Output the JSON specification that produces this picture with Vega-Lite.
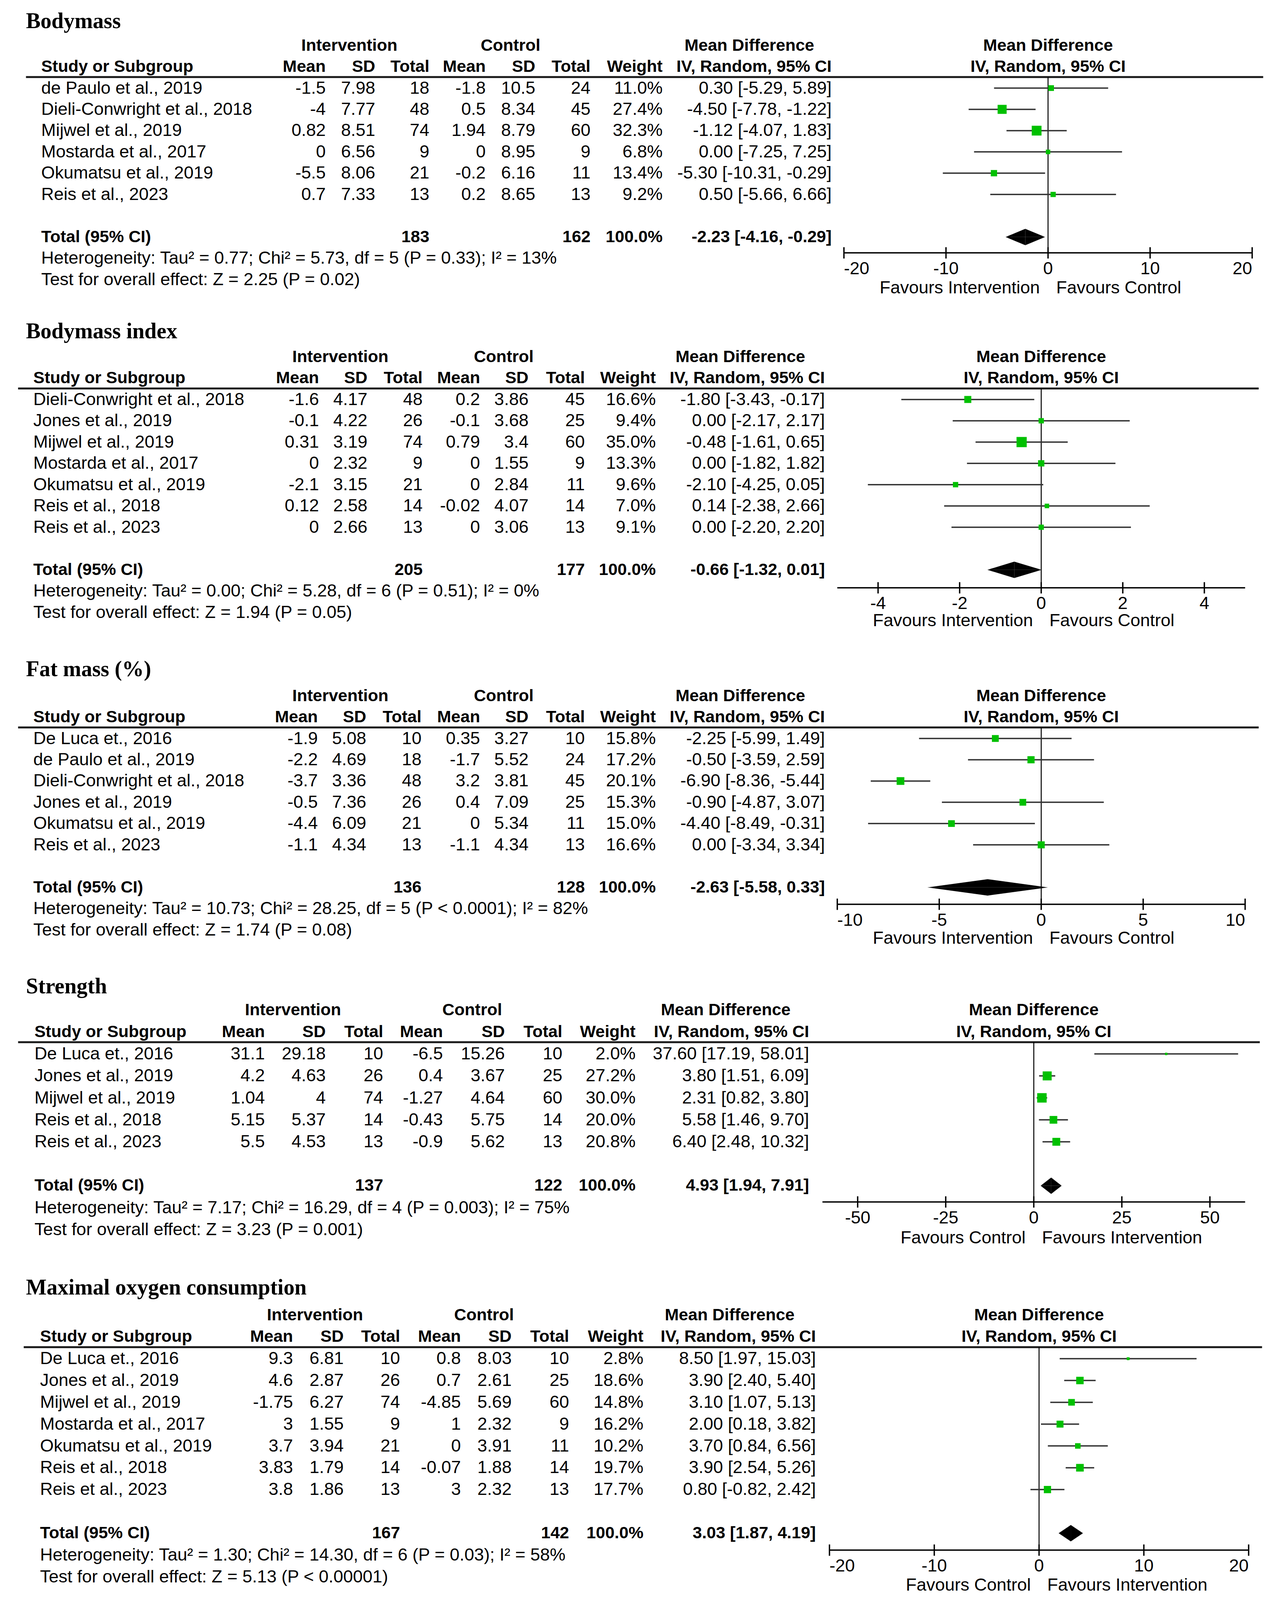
{
"$schema":"https://vega.github.io/schema/vega-lite/v6.json",
"padding":{"left":43.3,"top":26.7,"right":37.7,"bottom":0},
"autosize":{"type":"pad"},
"bounds":"flush",
"spacing":0,
"background":"white",
"datasets":{
"bm":[
{"study":"de Paulo et al., 2019","mi":-1.5,"sdi":7.98,"ni":18,"mc":-1.8,"sdc":10.5,"nc":24,"w":0.110,"ci":"0.30 [-5.29, 5.89]","md":0.30,"lo":-5.29,"hi":5.89},
{"study":"Dieli-Conwright et al., 2018","mi":-4,"sdi":7.77,"ni":48,"mc":0.5,"sdc":8.34,"nc":45,"w":0.274,"ci":"-4.50 [-7.78, -1.22]","md":-4.50,"lo":-7.78,"hi":-1.22},
{"study":"Mijwel et al., 2019","mi":0.82,"sdi":8.51,"ni":74,"mc":1.94,"sdc":8.79,"nc":60,"w":0.323,"ci":"-1.12 [-4.07, 1.83]","md":-1.12,"lo":-4.07,"hi":1.83},
{"study":"Mostarda et al., 2017","mi":0,"sdi":6.56,"ni":9,"mc":0,"sdc":8.95,"nc":9,"w":0.068,"ci":"0.00 [-7.25, 7.25]","md":0,"lo":-7.25,"hi":7.25},
{"study":"Okumatsu et al., 2019","mi":-5.5,"sdi":8.06,"ni":21,"mc":-0.2,"sdc":6.16,"nc":11,"w":0.134,"ci":"-5.30 [-10.31, -0.29]","md":-5.30,"lo":-10.31,"hi":-0.29},
{"study":"Reis et al., 2023","mi":0.7,"sdi":7.33,"ni":13,"mc":0.2,"sdc":8.65,"nc":13,"w":0.092,"ci":"0.50 [-5.66, 6.66]","md":0.50,"lo":-5.66,"hi":6.66}
],
"bmb":[
{"study":"Study or Subgroup","mi":"Mean","sdi":"SD","ni":"Total","mc":"Mean","sdc":"SD","nc":"Total","w":"Weight","ci":"IV, Random, 95% CI"},
{"study":"Total (95% CI)","mi":"","sdi":"","ni":"183","mc":"","sdc":"","nc":"162","w":"100.0%","ci":"-2.23 [-4.16, -0.29]","md":-2.23,"lo":-4.16,"hi":-0.29}
],
"bmi":[
{"study":"Dieli-Conwright et al., 2018","mi":-1.6,"sdi":4.17,"ni":48,"mc":0.2,"sdc":3.86,"nc":45,"w":0.166,"ci":"-1.80 [-3.43, -0.17]","md":-1.8,"lo":-3.43,"hi":-0.17},
{"study":"Jones et al., 2019","mi":-0.1,"sdi":4.22,"ni":26,"mc":-0.1,"sdc":3.68,"nc":25,"w":0.094,"ci":"0.00 [-2.17, 2.17]","md":0,"lo":-2.17,"hi":2.17},
{"study":"Mijwel et al., 2019","mi":0.31,"sdi":3.19,"ni":74,"mc":0.79,"sdc":3.4,"nc":60,"w":0.35,"ci":"-0.48 [-1.61, 0.65]","md":-0.48,"lo":-1.61,"hi":0.65},
{"study":"Mostarda et al., 2017","mi":0,"sdi":2.32,"ni":9,"mc":0,"sdc":1.55,"nc":9,"w":0.133,"ci":"0.00 [-1.82, 1.82]","md":0,"lo":-1.82,"hi":1.82},
{"study":"Okumatsu et al., 2019","mi":-2.1,"sdi":3.15,"ni":21,"mc":0,"sdc":2.84,"nc":11,"w":0.096,"ci":"-2.10 [-4.25, 0.05]","md":-2.1,"lo":-4.25,"hi":0.05},
{"study":"Reis et al., 2018","mi":0.12,"sdi":2.58,"ni":14,"mc":-0.02,"sdc":4.07,"nc":14,"w":0.07,"ci":"0.14 [-2.38, 2.66]","md":0.14,"lo":-2.38,"hi":2.66},
{"study":"Reis et al., 2023","mi":0,"sdi":2.66,"ni":13,"mc":0,"sdc":3.06,"nc":13,"w":0.091,"ci":"0.00 [-2.20, 2.20]","md":0,"lo":-2.2,"hi":2.2}
],
"bmib":[
{"study":"Study or Subgroup","mi":"Mean","sdi":"SD","ni":"Total","mc":"Mean","sdc":"SD","nc":"Total","w":"Weight","ci":"IV, Random, 95% CI"},
{"study":"Total (95% CI)","mi":"","sdi":"","ni":"205","mc":"","sdc":"","nc":"177","w":"100.0%","ci":"-0.66 [-1.32, 0.01]","md":-0.66,"lo":-1.32,"hi":0.01}
],
"fat":[
{"study":"De Luca et., 2016","mi":-1.9,"sdi":5.08,"ni":10,"mc":0.35,"sdc":3.27,"nc":10,"w":0.158,"ci":"-2.25 [-5.99, 1.49]","md":-2.25,"lo":-5.99,"hi":1.49},
{"study":"de Paulo et al., 2019","mi":-2.2,"sdi":4.69,"ni":18,"mc":-1.7,"sdc":5.52,"nc":24,"w":0.172,"ci":"-0.50 [-3.59, 2.59]","md":-0.5,"lo":-3.59,"hi":2.59},
{"study":"Dieli-Conwright et al., 2018","mi":-3.7,"sdi":3.36,"ni":48,"mc":3.2,"sdc":3.81,"nc":45,"w":0.201,"ci":"-6.90 [-8.36, -5.44]","md":-6.9,"lo":-8.36,"hi":-5.44},
{"study":"Jones et al., 2019","mi":-0.5,"sdi":7.36,"ni":26,"mc":0.4,"sdc":7.09,"nc":25,"w":0.153,"ci":"-0.90 [-4.87, 3.07]","md":-0.9,"lo":-4.87,"hi":3.07},
{"study":"Okumatsu et al., 2019","mi":-4.4,"sdi":6.09,"ni":21,"mc":0,"sdc":5.34,"nc":11,"w":0.15,"ci":"-4.40 [-8.49, -0.31]","md":-4.4,"lo":-8.49,"hi":-0.31},
{"study":"Reis et al., 2023","mi":-1.1,"sdi":4.34,"ni":13,"mc":-1.1,"sdc":4.34,"nc":13,"w":0.166,"ci":"0.00 [-3.34, 3.34]","md":0,"lo":-3.34,"hi":3.34}
],
"fatb":[
{"study":"Study or Subgroup","mi":"Mean","sdi":"SD","ni":"Total","mc":"Mean","sdc":"SD","nc":"Total","w":"Weight","ci":"IV, Random, 95% CI"},
{"study":"Total (95% CI)","mi":"","sdi":"","ni":"136","mc":"","sdc":"","nc":"128","w":"100.0%","ci":"-2.63 [-5.58, 0.33]","md":-2.63,"lo":-5.58,"hi":0.33}
],
"str":[
{"study":"De Luca et., 2016","mi":31.1,"sdi":29.18,"ni":10,"mc":-6.5,"sdc":15.26,"nc":10,"w":0.02,"ci":"37.60 [17.19, 58.01]","md":37.6,"lo":17.19,"hi":58.01},
{"study":"Jones et al., 2019","mi":4.2,"sdi":4.63,"ni":26,"mc":0.4,"sdc":3.67,"nc":25,"w":0.272,"ci":"3.80 [1.51, 6.09]","md":3.8,"lo":1.51,"hi":6.09},
{"study":"Mijwel et al., 2019","mi":1.04,"sdi":4,"ni":74,"mc":-1.27,"sdc":4.64,"nc":60,"w":0.30,"ci":"2.31 [0.82, 3.80]","md":2.31,"lo":0.82,"hi":3.8},
{"study":"Reis et al., 2018","mi":5.15,"sdi":5.37,"ni":14,"mc":-0.43,"sdc":5.75,"nc":14,"w":0.20,"ci":"5.58 [1.46, 9.70]","md":5.58,"lo":1.46,"hi":9.7},
{"study":"Reis et al., 2023","mi":5.5,"sdi":4.53,"ni":13,"mc":-0.9,"sdc":5.62,"nc":13,"w":0.208,"ci":"6.40 [2.48, 10.32]","md":6.4,"lo":2.48,"hi":10.32}
],
"strb":[
{"study":"Study or Subgroup","mi":"Mean","sdi":"SD","ni":"Total","mc":"Mean","sdc":"SD","nc":"Total","w":"Weight","ci":"IV, Random, 95% CI"},
{"study":"Total (95% CI)","mi":"","sdi":"","ni":"137","mc":"","sdc":"","nc":"122","w":"100.0%","ci":"4.93 [1.94, 7.91]","md":4.93,"lo":1.94,"hi":7.91}
],
"vo2":[
{"study":"De Luca et., 2016","mi":9.3,"sdi":6.81,"ni":10,"mc":0.8,"sdc":8.03,"nc":10,"w":0.028,"ci":"8.50 [1.97, 15.03]","md":8.5,"lo":1.97,"hi":15.03},
{"study":"Jones et al., 2019","mi":4.6,"sdi":2.87,"ni":26,"mc":0.7,"sdc":2.61,"nc":25,"w":0.186,"ci":"3.90 [2.40, 5.40]","md":3.9,"lo":2.4,"hi":5.4},
{"study":"Mijwel et al., 2019","mi":-1.75,"sdi":6.27,"ni":74,"mc":-4.85,"sdc":5.69,"nc":60,"w":0.148,"ci":"3.10 [1.07, 5.13]","md":3.1,"lo":1.07,"hi":5.13},
{"study":"Mostarda et al., 2017","mi":3,"sdi":1.55,"ni":9,"mc":1,"sdc":2.32,"nc":9,"w":0.162,"ci":"2.00 [0.18, 3.82]","md":2,"lo":0.18,"hi":3.82},
{"study":"Okumatsu et al., 2019","mi":3.7,"sdi":3.94,"ni":21,"mc":0,"sdc":3.91,"nc":11,"w":0.102,"ci":"3.70 [0.84, 6.56]","md":3.7,"lo":0.84,"hi":6.56},
{"study":"Reis et al., 2018","mi":3.83,"sdi":1.79,"ni":14,"mc":-0.07,"sdc":1.88,"nc":14,"w":0.197,"ci":"3.90 [2.54, 5.26]","md":3.9,"lo":2.54,"hi":5.26},
{"study":"Reis et al., 2023","mi":3.8,"sdi":1.86,"ni":13,"mc":3,"sdc":2.32,"nc":13,"w":0.177,"ci":"0.80 [-0.82, 2.42]","md":0.8,"lo":-0.82,"hi":2.42}
],
"vo2b":[
{"study":"Study or Subgroup","mi":"Mean","sdi":"SD","ni":"Total","mc":"Mean","sdc":"SD","nc":"Total","w":"Weight","ci":"IV, Random, 95% CI"},
{"study":"Total (95% CI)","mi":"","sdi":"","ni":"167","mc":"","sdc":"","nc":"142","w":"100.0%","ci":"3.03 [1.87, 4.19]","md":3.03,"lo":1.87,"hi":4.19}
]
},
"vconcat":[
{"title":{"text":"Bodymass","dx":20.2,"offset":4.0},"width":3193,"height":796.1,"data":{"name":"bm"},
"encoding":{"y":{"field":"study","type":"nominal","axis":null,"scale":{"type":"point","padding":0,"range":[28.9,627.9],"domain":["_grp","Study or Subgroup","de Paulo et al., 2019","Dieli-Conwright et al., 2018","Mijwel et al., 2019","Mostarda et al., 2017","Okumatsu et al., 2019","Reis et al., 2023","_blank","Total (95% CI)","_het","_test"]}}},
"resolve":{"scale":{"x":"independent"}},
"layer":[
{"layer":[
{"mark":{"type":"text","align":"left"},"encoding":{"x":{"datum":35.5,"axis":null,"scale":{"domain":[15,1122],"nice":false,"zero":false}},"text":{"field":"study"}}},
{"mark":"text","encoding":{"x":{"datum":288,"axis":null},"text":{"field":"mi"}}},
{"mark":"text","encoding":{"x":{"datum":332,"axis":null},"text":{"field":"sdi"}}},
{"mark":"text","encoding":{"x":{"datum":380,"axis":null},"text":{"field":"ni"}}},
{"mark":"text","encoding":{"x":{"datum":430,"axis":null},"text":{"field":"mc"}}},
{"mark":"text","encoding":{"x":{"datum":474,"axis":null},"text":{"field":"sdc"}}},
{"mark":"text","encoding":{"x":{"datum":523,"axis":null},"text":{"field":"nc"}}},
{"mark":"text","encoding":{"x":{"datum":587,"axis":null},"text":{"field":"w","type":"quantitative","format":".1%"}}},
{"mark":"text","encoding":{"x":{"datum":737,"axis":null},"text":{"field":"ci"}}},
{"data":{"name":"bmb"},"mark":{"type":"text","align":"left","fontWeight":"bold","fontSize":43},"encoding":{"x":{"datum":35.5,"axis":null},"text":{"field":"study"}}},
{"data":{"name":"bmb"},"mark":{"type":"text","fontWeight":"bold","fontSize":43},"encoding":{"x":{"datum":288,"axis":null},"text":{"field":"mi"}}},
{"data":{"name":"bmb"},"mark":{"type":"text","fontWeight":"bold","fontSize":43},"encoding":{"x":{"datum":332,"axis":null},"text":{"field":"sdi"}}},
{"data":{"name":"bmb"},"mark":{"type":"text","fontWeight":"bold","fontSize":43},"encoding":{"x":{"datum":380,"axis":null},"text":{"field":"ni"}}},
{"data":{"name":"bmb"},"mark":{"type":"text","fontWeight":"bold","fontSize":43},"encoding":{"x":{"datum":430,"axis":null},"text":{"field":"mc"}}},
{"data":{"name":"bmb"},"mark":{"type":"text","fontWeight":"bold","fontSize":43},"encoding":{"x":{"datum":474,"axis":null},"text":{"field":"sdc"}}},
{"data":{"name":"bmb"},"mark":{"type":"text","fontWeight":"bold","fontSize":43},"encoding":{"x":{"datum":523,"axis":null},"text":{"field":"nc"}}},
{"data":{"name":"bmb"},"mark":{"type":"text","fontWeight":"bold","fontSize":43},"encoding":{"x":{"datum":587,"axis":null},"text":{"field":"w"}}},
{"data":{"name":"bmb"},"mark":{"type":"text","fontWeight":"bold","fontSize":43},"encoding":{"x":{"datum":737,"axis":null},"text":{"field":"ci"}}},
{"data":{"values":[{"study":"_grp"}]},"mark":{"type":"text","align":"center","fontWeight":"bold","fontSize":43},"encoding":{"x":{"datum":309,"axis":null},"text":{"value":"Intervention"}}},
{"data":{"values":[{"study":"_grp"}]},"mark":{"type":"text","align":"center","fontWeight":"bold","fontSize":43},"encoding":{"x":{"datum":452,"axis":null},"text":{"value":"Control"}}},
{"data":{"values":[{"study":"_grp"}]},"mark":{"type":"text","align":"center","fontWeight":"bold","fontSize":43},"encoding":{"x":{"datum":664,"axis":null},"text":{"value":"Mean Difference"}}},
{"data":{"values":[{"study":"_het","t":"Heterogeneity: Tau² = 0.77; Chi² = 5.73, df = 5 (P = 0.33); I² = 13%"},{"study":"_test","t":"Test for overall effect: Z = 2.25 (P = 0.02)"}]},"mark":{"type":"text","align":"left"},"encoding":{"x":{"datum":35.5,"axis":null},"text":{"field":"t"}}},
{"data":{"values":[{}]},"mark":{"type":"rule","color":"#1a1a1a","strokeWidth":5,"yOffset":26.3},"encoding":{"x":{"datum":22,"axis":null},"x2":{"datum":1120},"y":{"datum":"Study or Subgroup","axis":null}}}
]},
{"resolve":{"scale":{"yOffset":"independent"}},"layer":[
{"data":{"values":[{"t":-20},{"t":-10},{"t":0},{"t":10},{"t":20}]},"mark":{"type":"tick","orient":"vertical","size":29,"thickness":3.5,"color":"black","opacity":1,"yOffset":-68.3},"encoding":{"x":{"field":"t","type":"quantitative","axis":null,"scale":{"domain":[-20,20],"range":[2114,3159],"nice":false,"zero":false}},"y":{"datum":"_test","axis":null}}},
{"data":{"values":[{}]},"mark":{"type":"rule","color":"black","strokeWidth":3.5,"yOffset":-68.3},"encoding":{"x":{"datum":-20,"axis":null},"x2":{"datum":20},"y":{"datum":"_test","axis":null}}},
{"data":{"values":[{"t":-10},{"t":0},{"t":10}]},"mark":{"type":"text","align":"center","dy":-27.6},"encoding":{"x":{"field":"t","type":"quantitative","axis":null},"y":{"datum":"_test","axis":null},"text":{"field":"t"}}},
{"data":{"values":[{"t":-20}]},"mark":{"type":"text","align":"left","dy":-27.6},"encoding":{"x":{"field":"t","type":"quantitative","axis":null},"y":{"datum":"_test","axis":null},"text":{"field":"t"}}},
{"data":{"values":[{"t":20}]},"mark":{"type":"text","align":"right","dy":-27.6},"encoding":{"x":{"field":"t","type":"quantitative","axis":null},"y":{"datum":"_test","axis":null},"text":{"field":"t"}}},
{"data":{"values":[{}]},"mark":{"type":"rule","color":"black","strokeWidth":2.5,"yOffset":26.3,"y2Offset":-68.3},"encoding":{"x":{"datum":0,"axis":null},"y":{"datum":"Study or Subgroup","axis":null},"y2":{"datum":"_test"}}},
{"data":{"values":[{"study":"_grp","t":"Mean Difference"},{"study":"Study or Subgroup","t":"IV, Random, 95% CI"}]},"mark":{"type":"text","align":"center","fontWeight":"bold","fontSize":43},"encoding":{"x":{"datum":0,"axis":null},"text":{"field":"t"}}},
{"mark":{"type":"rule","color":"#333333","strokeWidth":3.5},"encoding":{"x":{"field":"lo","type":"quantitative","axis":null},"x2":{"field":"hi"}}},
{"mark":{"type":"point","shape":"square","filled":true,"color":"#00C000","opacity":1},"encoding":{"x":{"field":"md","type":"quantitative","axis":null},"size":{"field":"w","type":"quantitative","legend":null,"scale":{"domain":[0,1],"range":[0,1950]}}}},
{"data":{"name":"bmb"},"transform":[{"filter":{"field":"md","valid":true}},{"fold":["lo","md"]}],"mark":{"type":"area","orient":"vertical","color":"black"},"encoding":{"x":{"field":"value","type":"quantitative","stack":null,"axis":null},"y2":{"field":"study"},"yOffset":{"field":"key","type":"nominal","scale":{"type":"point","padding":0,"domain":["lo","md"],"range":[0,-21]}}}},
{"data":{"name":"bmb"},"transform":[{"filter":{"field":"md","valid":true}},{"fold":["lo","md"]}],"mark":{"type":"area","orient":"vertical","color":"black"},"encoding":{"x":{"field":"value","type":"quantitative","stack":null,"axis":null},"y2":{"field":"study"},"yOffset":{"field":"key","type":"nominal","scale":{"type":"point","padding":0,"domain":["lo","md"],"range":[0,21]}}}},
{"data":{"name":"bmb"},"transform":[{"filter":{"field":"md","valid":true}},{"fold":["md","hi"]}],"mark":{"type":"area","orient":"vertical","color":"black"},"encoding":{"x":{"field":"value","type":"quantitative","stack":null,"axis":null},"y2":{"field":"study"},"yOffset":{"field":"key","type":"nominal","scale":{"type":"point","padding":0,"domain":["hi","md"],"range":[0,-21]}}}},
{"data":{"name":"bmb"},"transform":[{"filter":{"field":"md","valid":true}},{"fold":["md","hi"]}],"mark":{"type":"area","orient":"vertical","color":"black"},"encoding":{"x":{"field":"value","type":"quantitative","stack":null,"axis":null},"y2":{"field":"study"},"yOffset":{"field":"key","type":"nominal","scale":{"type":"point","padding":0,"domain":["hi","md"],"range":[0,21]}}}},
{"data":{"values":[{"study":"_test"}]},"mark":{"type":"text","align":"right","dx":-21,"dy":21},"encoding":{"x":{"datum":0,"axis":null},"text":{"value":"Favours Intervention"}}},
{"data":{"values":[{"study":"_test"}]},"mark":{"type":"text","align":"left","dx":21,"dy":21},"encoding":{"x":{"datum":0,"axis":null},"text":{"value":"Favours Control"}}}
]}
]},
{"title":{"text":"Bodymass index","dx":20.2,"offset":6.6},"width":3193,"height":867.1,"data":{"name":"bmi"},
"encoding":{"y":{"field":"study","type":"nominal","axis":null,"scale":{"type":"point","padding":0,"range":[28.9,683.1],"domain":["_grp","Study or Subgroup","Dieli-Conwright et al., 2018","Jones et al., 2019","Mijwel et al., 2019","Mostarda et al., 2017","Okumatsu et al., 2019","Reis et al., 2018","Reis et al., 2023","_blank","Total (95% CI)","_het","_test"]}}},
"resolve":{"scale":{"x":"independent"}},
"layer":[
{"layer":[
{"mark":{"type":"text","align":"left"},"encoding":{"x":{"datum":28.5,"axis":null,"scale":{"domain":[15,1122],"nice":false,"zero":false}},"text":{"field":"study"}}},
{"mark":"text","encoding":{"x":{"datum":282,"axis":null},"text":{"field":"mi"}}},
{"mark":"text","encoding":{"x":{"datum":325,"axis":null},"text":{"field":"sdi"}}},
{"mark":"text","encoding":{"x":{"datum":374,"axis":null},"text":{"field":"ni"}}},
{"mark":"text","encoding":{"x":{"datum":425,"axis":null},"text":{"field":"mc"}}},
{"mark":"text","encoding":{"x":{"datum":468,"axis":null},"text":{"field":"sdc"}}},
{"mark":"text","encoding":{"x":{"datum":518,"axis":null},"text":{"field":"nc"}}},
{"mark":"text","encoding":{"x":{"datum":581,"axis":null},"text":{"field":"w","type":"quantitative","format":".1%"}}},
{"mark":"text","encoding":{"x":{"datum":731,"axis":null},"text":{"field":"ci"}}},
{"data":{"name":"bmib"},"mark":{"type":"text","align":"left","fontWeight":"bold","fontSize":43},"encoding":{"x":{"datum":28.5,"axis":null},"text":{"field":"study"}}},
{"data":{"name":"bmib"},"mark":{"type":"text","fontWeight":"bold","fontSize":43},"encoding":{"x":{"datum":282,"axis":null},"text":{"field":"mi"}}},
{"data":{"name":"bmib"},"mark":{"type":"text","fontWeight":"bold","fontSize":43},"encoding":{"x":{"datum":325,"axis":null},"text":{"field":"sdi"}}},
{"data":{"name":"bmib"},"mark":{"type":"text","fontWeight":"bold","fontSize":43},"encoding":{"x":{"datum":374,"axis":null},"text":{"field":"ni"}}},
{"data":{"name":"bmib"},"mark":{"type":"text","fontWeight":"bold","fontSize":43},"encoding":{"x":{"datum":425,"axis":null},"text":{"field":"mc"}}},
{"data":{"name":"bmib"},"mark":{"type":"text","fontWeight":"bold","fontSize":43},"encoding":{"x":{"datum":468,"axis":null},"text":{"field":"sdc"}}},
{"data":{"name":"bmib"},"mark":{"type":"text","fontWeight":"bold","fontSize":43},"encoding":{"x":{"datum":518,"axis":null},"text":{"field":"nc"}}},
{"data":{"name":"bmib"},"mark":{"type":"text","fontWeight":"bold","fontSize":43},"encoding":{"x":{"datum":581,"axis":null},"text":{"field":"w"}}},
{"data":{"name":"bmib"},"mark":{"type":"text","fontWeight":"bold","fontSize":43},"encoding":{"x":{"datum":731,"axis":null},"text":{"field":"ci"}}},
{"data":{"values":[{"study":"_grp"}]},"mark":{"type":"text","align":"center","fontWeight":"bold","fontSize":43},"encoding":{"x":{"datum":301,"axis":null},"text":{"value":"Intervention"}}},
{"data":{"values":[{"study":"_grp"}]},"mark":{"type":"text","align":"center","fontWeight":"bold","fontSize":43},"encoding":{"x":{"datum":446,"axis":null},"text":{"value":"Control"}}},
{"data":{"values":[{"study":"_grp"}]},"mark":{"type":"text","align":"center","fontWeight":"bold","fontSize":43},"encoding":{"x":{"datum":656,"axis":null},"text":{"value":"Mean Difference"}}},
{"data":{"values":[{"study":"_het","t":"Heterogeneity: Tau² = 0.00; Chi² = 5.28, df = 6 (P = 0.51); I² = 0%"},{"study":"_test","t":"Test for overall effect: Z = 1.94 (P = 0.05)"}]},"mark":{"type":"text","align":"left"},"encoding":{"x":{"datum":28.5,"axis":null},"text":{"field":"t"}}},
{"data":{"values":[{}]},"mark":{"type":"rule","color":"#1a1a1a","strokeWidth":5,"yOffset":26.3},"encoding":{"x":{"datum":15,"axis":null},"x2":{"datum":1116},"y":{"datum":"Study or Subgroup","axis":null}}}
]},
{"resolve":{"scale":{"yOffset":"independent"}},"layer":[
{"data":{"values":[{"t":-4},{"t":-2},{"t":0},{"t":2},{"t":4}]},"mark":{"type":"tick","orient":"vertical","size":29,"thickness":3.5,"color":"black","opacity":1,"yOffset":-63.0},"encoding":{"x":{"field":"t","type":"quantitative","axis":null,"scale":{"domain":[-5,5],"range":[2097,3141],"nice":false,"zero":false}},"y":{"datum":"_test","axis":null}}},
{"data":{"values":[{}]},"mark":{"type":"rule","color":"black","strokeWidth":3.5,"yOffset":-63.0},"encoding":{"x":{"datum":-5,"axis":null},"x2":{"datum":5},"y":{"datum":"_test","axis":null}}},
{"data":{"values":[{"t":-4},{"t":-2},{"t":0},{"t":2},{"t":4}]},"mark":{"type":"text","align":"center","dy":-22.3},"encoding":{"x":{"field":"t","type":"quantitative","axis":null},"y":{"datum":"_test","axis":null},"text":{"field":"t"}}},
{"data":{"values":[{}]},"mark":{"type":"rule","color":"black","strokeWidth":2.5,"yOffset":26.3,"y2Offset":-63.0},"encoding":{"x":{"datum":0,"axis":null},"y":{"datum":"Study or Subgroup","axis":null},"y2":{"datum":"_test"}}},
{"data":{"values":[{"study":"_grp","t":"Mean Difference"},{"study":"Study or Subgroup","t":"IV, Random, 95% CI"}]},"mark":{"type":"text","align":"center","fontWeight":"bold","fontSize":43},"encoding":{"x":{"datum":0,"axis":null},"text":{"field":"t"}}},
{"mark":{"type":"rule","color":"#333333","strokeWidth":3.5},"encoding":{"x":{"field":"lo","type":"quantitative","axis":null},"x2":{"field":"hi"}}},
{"mark":{"type":"point","shape":"square","filled":true,"color":"#00C000","opacity":1},"encoding":{"x":{"field":"md","type":"quantitative","axis":null},"size":{"field":"w","type":"quantitative","legend":null,"scale":{"domain":[0,1],"range":[0,1950]}}}},
{"data":{"name":"bmib"},"transform":[{"filter":{"field":"md","valid":true}},{"fold":["lo","md"]}],"mark":{"type":"area","orient":"vertical","color":"black"},"encoding":{"x":{"field":"value","type":"quantitative","stack":null,"axis":null},"y2":{"field":"study"},"yOffset":{"field":"key","type":"nominal","scale":{"type":"point","padding":0,"domain":["lo","md"],"range":[0,-21]}}}},
{"data":{"name":"bmib"},"transform":[{"filter":{"field":"md","valid":true}},{"fold":["lo","md"]}],"mark":{"type":"area","orient":"vertical","color":"black"},"encoding":{"x":{"field":"value","type":"quantitative","stack":null,"axis":null},"y2":{"field":"study"},"yOffset":{"field":"key","type":"nominal","scale":{"type":"point","padding":0,"domain":["lo","md"],"range":[0,21]}}}},
{"data":{"name":"bmib"},"transform":[{"filter":{"field":"md","valid":true}},{"fold":["md","hi"]}],"mark":{"type":"area","orient":"vertical","color":"black"},"encoding":{"x":{"field":"value","type":"quantitative","stack":null,"axis":null},"y2":{"field":"study"},"yOffset":{"field":"key","type":"nominal","scale":{"type":"point","padding":0,"domain":["hi","md"],"range":[0,-21]}}}},
{"data":{"name":"bmib"},"transform":[{"filter":{"field":"md","valid":true}},{"fold":["md","hi"]}],"mark":{"type":"area","orient":"vertical","color":"black"},"encoding":{"x":{"field":"value","type":"quantitative","stack":null,"axis":null},"y2":{"field":"study"},"yOffset":{"field":"key","type":"nominal","scale":{"type":"point","padding":0,"domain":["hi","md"],"range":[0,21]}}}},
{"data":{"values":[{"study":"_test"}]},"mark":{"type":"text","align":"right","dx":-21,"dy":21},"encoding":{"x":{"datum":0,"axis":null},"text":{"value":"Favours Intervention"}}},
{"data":{"values":[{"study":"_test"}]},"mark":{"type":"text","align":"left","dx":21,"dy":21},"encoding":{"x":{"datum":0,"axis":null},"text":{"value":"Favours Control"}}}
]}
]},
{"title":{"text":"Fat mass (%)","dx":20.2,"offset":9.2},"width":3193,"height":804.0,"data":{"name":"fat"},
"encoding":{"y":{"field":"study","type":"nominal","axis":null,"scale":{"type":"point","padding":0,"range":[28.9,627.9],"domain":["_grp","Study or Subgroup","De Luca et., 2016","de Paulo et al., 2019","Dieli-Conwright et al., 2018","Jones et al., 2019","Okumatsu et al., 2019","Reis et al., 2023","_blank","Total (95% CI)","_het","_test"]}}},
"resolve":{"scale":{"x":"independent"}},
"layer":[
{"layer":[
{"mark":{"type":"text","align":"left"},"encoding":{"x":{"datum":28.5,"axis":null,"scale":{"domain":[15,1122],"nice":false,"zero":false}},"text":{"field":"study"}}},
{"mark":"text","encoding":{"x":{"datum":281,"axis":null},"text":{"field":"mi"}}},
{"mark":"text","encoding":{"x":{"datum":324,"axis":null},"text":{"field":"sdi"}}},
{"mark":"text","encoding":{"x":{"datum":373,"axis":null},"text":{"field":"ni"}}},
{"mark":"text","encoding":{"x":{"datum":425,"axis":null},"text":{"field":"mc"}}},
{"mark":"text","encoding":{"x":{"datum":468,"axis":null},"text":{"field":"sdc"}}},
{"mark":"text","encoding":{"x":{"datum":518,"axis":null},"text":{"field":"nc"}}},
{"mark":"text","encoding":{"x":{"datum":581,"axis":null},"text":{"field":"w","type":"quantitative","format":".1%"}}},
{"mark":"text","encoding":{"x":{"datum":731,"axis":null},"text":{"field":"ci"}}},
{"data":{"name":"fatb"},"mark":{"type":"text","align":"left","fontWeight":"bold","fontSize":43},"encoding":{"x":{"datum":28.5,"axis":null},"text":{"field":"study"}}},
{"data":{"name":"fatb"},"mark":{"type":"text","fontWeight":"bold","fontSize":43},"encoding":{"x":{"datum":281,"axis":null},"text":{"field":"mi"}}},
{"data":{"name":"fatb"},"mark":{"type":"text","fontWeight":"bold","fontSize":43},"encoding":{"x":{"datum":324,"axis":null},"text":{"field":"sdi"}}},
{"data":{"name":"fatb"},"mark":{"type":"text","fontWeight":"bold","fontSize":43},"encoding":{"x":{"datum":373,"axis":null},"text":{"field":"ni"}}},
{"data":{"name":"fatb"},"mark":{"type":"text","fontWeight":"bold","fontSize":43},"encoding":{"x":{"datum":425,"axis":null},"text":{"field":"mc"}}},
{"data":{"name":"fatb"},"mark":{"type":"text","fontWeight":"bold","fontSize":43},"encoding":{"x":{"datum":468,"axis":null},"text":{"field":"sdc"}}},
{"data":{"name":"fatb"},"mark":{"type":"text","fontWeight":"bold","fontSize":43},"encoding":{"x":{"datum":518,"axis":null},"text":{"field":"nc"}}},
{"data":{"name":"fatb"},"mark":{"type":"text","fontWeight":"bold","fontSize":43},"encoding":{"x":{"datum":581,"axis":null},"text":{"field":"w"}}},
{"data":{"name":"fatb"},"mark":{"type":"text","fontWeight":"bold","fontSize":43},"encoding":{"x":{"datum":731,"axis":null},"text":{"field":"ci"}}},
{"data":{"values":[{"study":"_grp"}]},"mark":{"type":"text","align":"center","fontWeight":"bold","fontSize":43},"encoding":{"x":{"datum":301,"axis":null},"text":{"value":"Intervention"}}},
{"data":{"values":[{"study":"_grp"}]},"mark":{"type":"text","align":"center","fontWeight":"bold","fontSize":43},"encoding":{"x":{"datum":446,"axis":null},"text":{"value":"Control"}}},
{"data":{"values":[{"study":"_grp"}]},"mark":{"type":"text","align":"center","fontWeight":"bold","fontSize":43},"encoding":{"x":{"datum":656,"axis":null},"text":{"value":"Mean Difference"}}},
{"data":{"values":[{"study":"_het","t":"Heterogeneity: Tau² = 10.73; Chi² = 28.25, df = 5 (P < 0.0001); I² = 82%"},{"study":"_test","t":"Test for overall effect: Z = 1.74 (P = 0.08)"}]},"mark":{"type":"text","align":"left"},"encoding":{"x":{"datum":28.5,"axis":null},"text":{"field":"t"}}},
{"data":{"values":[{}]},"mark":{"type":"rule","color":"#1a1a1a","strokeWidth":5,"yOffset":26.3},"encoding":{"x":{"datum":15,"axis":null},"x2":{"datum":1116},"y":{"datum":"Study or Subgroup","axis":null}}}
]},
{"resolve":{"scale":{"yOffset":"independent"}},"layer":[
{"data":{"values":[{"t":-10},{"t":-5},{"t":0},{"t":5},{"t":10}]},"mark":{"type":"tick","orient":"vertical","size":29,"thickness":3.5,"color":"black","opacity":1,"yOffset":-65.7},"encoding":{"x":{"field":"t","type":"quantitative","axis":null,"scale":{"domain":[-10,10],"range":[2097,3141],"nice":false,"zero":false}},"y":{"datum":"_test","axis":null}}},
{"data":{"values":[{}]},"mark":{"type":"rule","color":"black","strokeWidth":3.5,"yOffset":-65.7},"encoding":{"x":{"datum":-10,"axis":null},"x2":{"datum":10},"y":{"datum":"_test","axis":null}}},
{"data":{"values":[{"t":-5},{"t":0},{"t":5}]},"mark":{"type":"text","align":"center","dy":-25.0},"encoding":{"x":{"field":"t","type":"quantitative","axis":null},"y":{"datum":"_test","axis":null},"text":{"field":"t"}}},
{"data":{"values":[{"t":-10}]},"mark":{"type":"text","align":"left","dy":-25.0},"encoding":{"x":{"field":"t","type":"quantitative","axis":null},"y":{"datum":"_test","axis":null},"text":{"field":"t"}}},
{"data":{"values":[{"t":10}]},"mark":{"type":"text","align":"right","dy":-25.0},"encoding":{"x":{"field":"t","type":"quantitative","axis":null},"y":{"datum":"_test","axis":null},"text":{"field":"t"}}},
{"data":{"values":[{}]},"mark":{"type":"rule","color":"black","strokeWidth":2.5,"yOffset":26.3,"y2Offset":-65.7},"encoding":{"x":{"datum":0,"axis":null},"y":{"datum":"Study or Subgroup","axis":null},"y2":{"datum":"_test"}}},
{"data":{"values":[{"study":"_grp","t":"Mean Difference"},{"study":"Study or Subgroup","t":"IV, Random, 95% CI"}]},"mark":{"type":"text","align":"center","fontWeight":"bold","fontSize":43},"encoding":{"x":{"datum":0,"axis":null},"text":{"field":"t"}}},
{"mark":{"type":"rule","color":"#333333","strokeWidth":3.5},"encoding":{"x":{"field":"lo","type":"quantitative","axis":null},"x2":{"field":"hi"}}},
{"mark":{"type":"point","shape":"square","filled":true,"color":"#00C000","opacity":1},"encoding":{"x":{"field":"md","type":"quantitative","axis":null},"size":{"field":"w","type":"quantitative","legend":null,"scale":{"domain":[0,1],"range":[0,1950]}}}},
{"data":{"name":"fatb"},"transform":[{"filter":{"field":"md","valid":true}},{"fold":["lo","md"]}],"mark":{"type":"area","orient":"vertical","color":"black"},"encoding":{"x":{"field":"value","type":"quantitative","stack":null,"axis":null},"y2":{"field":"study"},"yOffset":{"field":"key","type":"nominal","scale":{"type":"point","padding":0,"domain":["lo","md"],"range":[0,-21]}}}},
{"data":{"name":"fatb"},"transform":[{"filter":{"field":"md","valid":true}},{"fold":["lo","md"]}],"mark":{"type":"area","orient":"vertical","color":"black"},"encoding":{"x":{"field":"value","type":"quantitative","stack":null,"axis":null},"y2":{"field":"study"},"yOffset":{"field":"key","type":"nominal","scale":{"type":"point","padding":0,"domain":["lo","md"],"range":[0,21]}}}},
{"data":{"name":"fatb"},"transform":[{"filter":{"field":"md","valid":true}},{"fold":["md","hi"]}],"mark":{"type":"area","orient":"vertical","color":"black"},"encoding":{"x":{"field":"value","type":"quantitative","stack":null,"axis":null},"y2":{"field":"study"},"yOffset":{"field":"key","type":"nominal","scale":{"type":"point","padding":0,"domain":["hi","md"],"range":[0,-21]}}}},
{"data":{"name":"fatb"},"transform":[{"filter":{"field":"md","valid":true}},{"fold":["md","hi"]}],"mark":{"type":"area","orient":"vertical","color":"black"},"encoding":{"x":{"field":"value","type":"quantitative","stack":null,"axis":null},"y2":{"field":"study"},"yOffset":{"field":"key","type":"nominal","scale":{"type":"point","padding":0,"domain":["hi","md"],"range":[0,21]}}}},
{"data":{"values":[{"study":"_test"}]},"mark":{"type":"text","align":"right","dx":-21,"dy":21},"encoding":{"x":{"datum":0,"axis":null},"text":{"value":"Favours Intervention"}}},
{"data":{"values":[{"study":"_test"}]},"mark":{"type":"text","align":"left","dx":21,"dy":21},"encoding":{"x":{"datum":0,"axis":null},"text":{"value":"Favours Control"}}}
]}
]},
{"title":{"text":"Strength","dx":20.2,"offset":1.3},"width":3193,"height":780.3,"data":{"name":"str"},
"encoding":{"y":{"field":"study","type":"nominal","axis":null,"scale":{"type":"point","padding":0,"range":[28.9,591.2],"domain":["_grp","Study or Subgroup","De Luca et., 2016","Jones et al., 2019","Mijwel et al., 2019","Reis et al., 2018","Reis et al., 2023","_blank","Total (95% CI)","_het","_test"]}}},
"resolve":{"scale":{"x":"independent"}},
"layer":[
{"layer":[
{"mark":{"type":"text","align":"left"},"encoding":{"x":{"datum":29.5,"axis":null,"scale":{"domain":[15,1122],"nice":false,"zero":false}},"text":{"field":"study"}}},
{"mark":"text","encoding":{"x":{"datum":234,"axis":null},"text":{"field":"mi"}}},
{"mark":"text","encoding":{"x":{"datum":288,"axis":null},"text":{"field":"sdi"}}},
{"mark":"text","encoding":{"x":{"datum":339,"axis":null},"text":{"field":"ni"}}},
{"mark":"text","encoding":{"x":{"datum":392,"axis":null},"text":{"field":"mc"}}},
{"mark":"text","encoding":{"x":{"datum":447,"axis":null},"text":{"field":"sdc"}}},
{"mark":"text","encoding":{"x":{"datum":498,"axis":null},"text":{"field":"nc"}}},
{"mark":"text","encoding":{"x":{"datum":563,"axis":null},"text":{"field":"w","type":"quantitative","format":".1%"}}},
{"mark":"text","encoding":{"x":{"datum":717,"axis":null},"text":{"field":"ci"}}},
{"data":{"name":"strb"},"mark":{"type":"text","align":"left","fontWeight":"bold","fontSize":43},"encoding":{"x":{"datum":29.5,"axis":null},"text":{"field":"study"}}},
{"data":{"name":"strb"},"mark":{"type":"text","fontWeight":"bold","fontSize":43},"encoding":{"x":{"datum":234,"axis":null},"text":{"field":"mi"}}},
{"data":{"name":"strb"},"mark":{"type":"text","fontWeight":"bold","fontSize":43},"encoding":{"x":{"datum":288,"axis":null},"text":{"field":"sdi"}}},
{"data":{"name":"strb"},"mark":{"type":"text","fontWeight":"bold","fontSize":43},"encoding":{"x":{"datum":339,"axis":null},"text":{"field":"ni"}}},
{"data":{"name":"strb"},"mark":{"type":"text","fontWeight":"bold","fontSize":43},"encoding":{"x":{"datum":392,"axis":null},"text":{"field":"mc"}}},
{"data":{"name":"strb"},"mark":{"type":"text","fontWeight":"bold","fontSize":43},"encoding":{"x":{"datum":447,"axis":null},"text":{"field":"sdc"}}},
{"data":{"name":"strb"},"mark":{"type":"text","fontWeight":"bold","fontSize":43},"encoding":{"x":{"datum":498,"axis":null},"text":{"field":"nc"}}},
{"data":{"name":"strb"},"mark":{"type":"text","fontWeight":"bold","fontSize":43},"encoding":{"x":{"datum":563,"axis":null},"text":{"field":"w"}}},
{"data":{"name":"strb"},"mark":{"type":"text","fontWeight":"bold","fontSize":43},"encoding":{"x":{"datum":717,"axis":null},"text":{"field":"ci"}}},
{"data":{"values":[{"study":"_grp"}]},"mark":{"type":"text","align":"center","fontWeight":"bold","fontSize":43},"encoding":{"x":{"datum":259,"axis":null},"text":{"value":"Intervention"}}},
{"data":{"values":[{"study":"_grp"}]},"mark":{"type":"text","align":"center","fontWeight":"bold","fontSize":43},"encoding":{"x":{"datum":418,"axis":null},"text":{"value":"Control"}}},
{"data":{"values":[{"study":"_grp"}]},"mark":{"type":"text","align":"center","fontWeight":"bold","fontSize":43},"encoding":{"x":{"datum":643,"axis":null},"text":{"value":"Mean Difference"}}},
{"data":{"values":[{"study":"_het","t":"Heterogeneity: Tau² = 7.17; Chi² = 16.29, df = 4 (P = 0.003); I² = 75%"},{"study":"_test","t":"Test for overall effect: Z = 3.23 (P = 0.001)"}]},"mark":{"type":"text","align":"left"},"encoding":{"x":{"datum":29.5,"axis":null},"text":{"field":"t"}}},
{"data":{"values":[{}]},"mark":{"type":"rule","color":"#1a1a1a","strokeWidth":5,"yOffset":26.3},"encoding":{"x":{"datum":15,"axis":null},"x2":{"datum":1117},"y":{"datum":"Study or Subgroup","axis":null}}}
]},
{"resolve":{"scale":{"yOffset":"independent"}},"layer":[
{"data":{"values":[{"t":-50},{"t":-25},{"t":0},{"t":25},{"t":50}]},"mark":{"type":"tick","orient":"vertical","size":29,"thickness":3.5,"color":"black","opacity":1,"yOffset":-70.9},"encoding":{"x":{"field":"t","type":"quantitative","axis":null,"scale":{"domain":[-60,60],"range":[2059,3141],"nice":false,"zero":false}},"y":{"datum":"_test","axis":null}}},
{"data":{"values":[{}]},"mark":{"type":"rule","color":"black","strokeWidth":3.5,"yOffset":-70.9},"encoding":{"x":{"datum":-60,"axis":null},"x2":{"datum":60},"y":{"datum":"_test","axis":null}}},
{"data":{"values":[{"t":-50},{"t":-25},{"t":0},{"t":25},{"t":50}]},"mark":{"type":"text","align":"center","dy":-30.2},"encoding":{"x":{"field":"t","type":"quantitative","axis":null},"y":{"datum":"_test","axis":null},"text":{"field":"t"}}},
{"data":{"values":[{}]},"mark":{"type":"rule","color":"black","strokeWidth":2.5,"yOffset":26.3,"y2Offset":-70.9},"encoding":{"x":{"datum":0,"axis":null},"y":{"datum":"Study or Subgroup","axis":null},"y2":{"datum":"_test"}}},
{"data":{"values":[{"study":"_grp","t":"Mean Difference"},{"study":"Study or Subgroup","t":"IV, Random, 95% CI"}]},"mark":{"type":"text","align":"center","fontWeight":"bold","fontSize":43},"encoding":{"x":{"datum":0,"axis":null},"text":{"field":"t"}}},
{"mark":{"type":"rule","color":"#333333","strokeWidth":3.5},"encoding":{"x":{"field":"lo","type":"quantitative","axis":null},"x2":{"field":"hi"}}},
{"mark":{"type":"point","shape":"square","filled":true,"color":"#00C000","opacity":1},"encoding":{"x":{"field":"md","type":"quantitative","axis":null},"size":{"field":"w","type":"quantitative","legend":null,"scale":{"domain":[0,1],"range":[0,1950]}}}},
{"data":{"name":"strb"},"transform":[{"filter":{"field":"md","valid":true}},{"fold":["lo","md"]}],"mark":{"type":"area","orient":"vertical","color":"black"},"encoding":{"x":{"field":"value","type":"quantitative","stack":null,"axis":null},"y2":{"field":"study"},"yOffset":{"field":"key","type":"nominal","scale":{"type":"point","padding":0,"domain":["lo","md"],"range":[0,-21]}}}},
{"data":{"name":"strb"},"transform":[{"filter":{"field":"md","valid":true}},{"fold":["lo","md"]}],"mark":{"type":"area","orient":"vertical","color":"black"},"encoding":{"x":{"field":"value","type":"quantitative","stack":null,"axis":null},"y2":{"field":"study"},"yOffset":{"field":"key","type":"nominal","scale":{"type":"point","padding":0,"domain":["lo","md"],"range":[0,21]}}}},
{"data":{"name":"strb"},"transform":[{"filter":{"field":"md","valid":true}},{"fold":["md","hi"]}],"mark":{"type":"area","orient":"vertical","color":"black"},"encoding":{"x":{"field":"value","type":"quantitative","stack":null,"axis":null},"y2":{"field":"study"},"yOffset":{"field":"key","type":"nominal","scale":{"type":"point","padding":0,"domain":["hi","md"],"range":[0,-21]}}}},
{"data":{"name":"strb"},"transform":[{"filter":{"field":"md","valid":true}},{"fold":["md","hi"]}],"mark":{"type":"area","orient":"vertical","color":"black"},"encoding":{"x":{"field":"value","type":"quantitative","stack":null,"axis":null},"y2":{"field":"study"},"yOffset":{"field":"key","type":"nominal","scale":{"type":"point","padding":0,"domain":["hi","md"],"range":[0,21]}}}},
{"data":{"values":[{"study":"_test"}]},"mark":{"type":"text","align":"right","dx":-21,"dy":21},"encoding":{"x":{"datum":0,"axis":null},"text":{"value":"Favours Control"}}},
{"data":{"values":[{"study":"_test"}]},"mark":{"type":"text","align":"left","dx":21,"dy":21},"encoding":{"x":{"datum":0,"axis":null},"text":{"value":"Favours Intervention"}}}
]}
]},
{"title":{"text":"Maximal oxygen consumption","dx":20.2,"offset":11.9},"width":3193,"height":754.0,"data":{"name":"vo2"},
"encoding":{"y":{"field":"study","type":"nominal","axis":null,"scale":{"type":"point","padding":0,"range":[28.9,698.9],"domain":["_grp","Study or Subgroup","De Luca et., 2016","Jones et al., 2019","Mijwel et al., 2019","Mostarda et al., 2017","Okumatsu et al., 2019","Reis et al., 2018","Reis et al., 2023","_blank","Total (95% CI)","_het","_test"]}}},
"resolve":{"scale":{"x":"independent"}},
"layer":[
{"layer":[
{"mark":{"type":"text","align":"left"},"encoding":{"x":{"datum":34.5,"axis":null,"scale":{"domain":[15,1122],"nice":false,"zero":false}},"text":{"field":"study"}}},
{"mark":"text","encoding":{"x":{"datum":259,"axis":null},"text":{"field":"mi"}}},
{"mark":"text","encoding":{"x":{"datum":304,"axis":null},"text":{"field":"sdi"}}},
{"mark":"text","encoding":{"x":{"datum":354,"axis":null},"text":{"field":"ni"}}},
{"mark":"text","encoding":{"x":{"datum":408,"axis":null},"text":{"field":"mc"}}},
{"mark":"text","encoding":{"x":{"datum":453,"axis":null},"text":{"field":"sdc"}}},
{"mark":"text","encoding":{"x":{"datum":504,"axis":null},"text":{"field":"nc"}}},
{"mark":"text","encoding":{"x":{"datum":570,"axis":null},"text":{"field":"w","type":"quantitative","format":".1%"}}},
{"mark":"text","encoding":{"x":{"datum":723,"axis":null},"text":{"field":"ci"}}},
{"data":{"name":"vo2b"},"mark":{"type":"text","align":"left","fontWeight":"bold","fontSize":43},"encoding":{"x":{"datum":34.5,"axis":null},"text":{"field":"study"}}},
{"data":{"name":"vo2b"},"mark":{"type":"text","fontWeight":"bold","fontSize":43},"encoding":{"x":{"datum":259,"axis":null},"text":{"field":"mi"}}},
{"data":{"name":"vo2b"},"mark":{"type":"text","fontWeight":"bold","fontSize":43},"encoding":{"x":{"datum":304,"axis":null},"text":{"field":"sdi"}}},
{"data":{"name":"vo2b"},"mark":{"type":"text","fontWeight":"bold","fontSize":43},"encoding":{"x":{"datum":354,"axis":null},"text":{"field":"ni"}}},
{"data":{"name":"vo2b"},"mark":{"type":"text","fontWeight":"bold","fontSize":43},"encoding":{"x":{"datum":408,"axis":null},"text":{"field":"mc"}}},
{"data":{"name":"vo2b"},"mark":{"type":"text","fontWeight":"bold","fontSize":43},"encoding":{"x":{"datum":453,"axis":null},"text":{"field":"sdc"}}},
{"data":{"name":"vo2b"},"mark":{"type":"text","fontWeight":"bold","fontSize":43},"encoding":{"x":{"datum":504,"axis":null},"text":{"field":"nc"}}},
{"data":{"name":"vo2b"},"mark":{"type":"text","fontWeight":"bold","fontSize":43},"encoding":{"x":{"datum":570,"axis":null},"text":{"field":"w"}}},
{"data":{"name":"vo2b"},"mark":{"type":"text","fontWeight":"bold","fontSize":43},"encoding":{"x":{"datum":723,"axis":null},"text":{"field":"ci"}}},
{"data":{"values":[{"study":"_grp"}]},"mark":{"type":"text","align":"center","fontWeight":"bold","fontSize":43},"encoding":{"x":{"datum":278.5,"axis":null},"text":{"value":"Intervention"}}},
{"data":{"values":[{"study":"_grp"}]},"mark":{"type":"text","align":"center","fontWeight":"bold","fontSize":43},"encoding":{"x":{"datum":428.5,"axis":null},"text":{"value":"Control"}}},
{"data":{"values":[{"study":"_grp"}]},"mark":{"type":"text","align":"center","fontWeight":"bold","fontSize":43},"encoding":{"x":{"datum":646.5,"axis":null},"text":{"value":"Mean Difference"}}},
{"data":{"values":[{"study":"_het","t":"Heterogeneity: Tau² = 1.30; Chi² = 14.30, df = 6 (P = 0.03); I² = 58%"},{"study":"_test","t":"Test for overall effect: Z = 5.13 (P < 0.00001)"}]},"mark":{"type":"text","align":"left"},"encoding":{"x":{"datum":34.5,"axis":null},"text":{"field":"t"}}},
{"data":{"values":[{}]},"mark":{"type":"rule","color":"#1a1a1a","strokeWidth":5,"yOffset":26.3},"encoding":{"x":{"datum":20,"axis":null},"x2":{"datum":1119},"y":{"datum":"Study or Subgroup","axis":null}}}
]},
{"resolve":{"scale":{"yOffset":"independent"}},"layer":[
{"data":{"values":[{"t":-20},{"t":-10},{"t":0},{"t":10},{"t":20}]},"mark":{"type":"tick","orient":"vertical","size":29,"thickness":3.5,"color":"black","opacity":1,"yOffset":-68.3},"encoding":{"x":{"field":"t","type":"quantitative","axis":null,"scale":{"domain":[-20,20],"range":[2077,3150],"nice":false,"zero":false}},"y":{"datum":"_test","axis":null}}},
{"data":{"values":[{}]},"mark":{"type":"rule","color":"black","strokeWidth":3.5,"yOffset":-68.3},"encoding":{"x":{"datum":-20,"axis":null},"x2":{"datum":20},"y":{"datum":"_test","axis":null}}},
{"data":{"values":[{"t":-10},{"t":0},{"t":10}]},"mark":{"type":"text","align":"center","dy":-27.6},"encoding":{"x":{"field":"t","type":"quantitative","axis":null},"y":{"datum":"_test","axis":null},"text":{"field":"t"}}},
{"data":{"values":[{"t":-20}]},"mark":{"type":"text","align":"left","dy":-27.6},"encoding":{"x":{"field":"t","type":"quantitative","axis":null},"y":{"datum":"_test","axis":null},"text":{"field":"t"}}},
{"data":{"values":[{"t":20}]},"mark":{"type":"text","align":"right","dy":-27.6},"encoding":{"x":{"field":"t","type":"quantitative","axis":null},"y":{"datum":"_test","axis":null},"text":{"field":"t"}}},
{"data":{"values":[{}]},"mark":{"type":"rule","color":"black","strokeWidth":2.5,"yOffset":26.3,"y2Offset":-68.3},"encoding":{"x":{"datum":0,"axis":null},"y":{"datum":"Study or Subgroup","axis":null},"y2":{"datum":"_test"}}},
{"data":{"values":[{"study":"_grp","t":"Mean Difference"},{"study":"Study or Subgroup","t":"IV, Random, 95% CI"}]},"mark":{"type":"text","align":"center","fontWeight":"bold","fontSize":43},"encoding":{"x":{"datum":0,"axis":null},"text":{"field":"t"}}},
{"mark":{"type":"rule","color":"#333333","strokeWidth":3.5},"encoding":{"x":{"field":"lo","type":"quantitative","axis":null},"x2":{"field":"hi"}}},
{"mark":{"type":"point","shape":"square","filled":true,"color":"#00C000","opacity":1},"encoding":{"x":{"field":"md","type":"quantitative","axis":null},"size":{"field":"w","type":"quantitative","legend":null,"scale":{"domain":[0,1],"range":[0,1950]}}}},
{"data":{"name":"vo2b"},"transform":[{"filter":{"field":"md","valid":true}},{"fold":["lo","md"]}],"mark":{"type":"area","orient":"vertical","color":"black"},"encoding":{"x":{"field":"value","type":"quantitative","stack":null,"axis":null},"y2":{"field":"study"},"yOffset":{"field":"key","type":"nominal","scale":{"type":"point","padding":0,"domain":["lo","md"],"range":[0,-21]}}}},
{"data":{"name":"vo2b"},"transform":[{"filter":{"field":"md","valid":true}},{"fold":["lo","md"]}],"mark":{"type":"area","orient":"vertical","color":"black"},"encoding":{"x":{"field":"value","type":"quantitative","stack":null,"axis":null},"y2":{"field":"study"},"yOffset":{"field":"key","type":"nominal","scale":{"type":"point","padding":0,"domain":["lo","md"],"range":[0,21]}}}},
{"data":{"name":"vo2b"},"transform":[{"filter":{"field":"md","valid":true}},{"fold":["md","hi"]}],"mark":{"type":"area","orient":"vertical","color":"black"},"encoding":{"x":{"field":"value","type":"quantitative","stack":null,"axis":null},"y2":{"field":"study"},"yOffset":{"field":"key","type":"nominal","scale":{"type":"point","padding":0,"domain":["hi","md"],"range":[0,-21]}}}},
{"data":{"name":"vo2b"},"transform":[{"filter":{"field":"md","valid":true}},{"fold":["md","hi"]}],"mark":{"type":"area","orient":"vertical","color":"black"},"encoding":{"x":{"field":"value","type":"quantitative","stack":null,"axis":null},"y2":{"field":"study"},"yOffset":{"field":"key","type":"nominal","scale":{"type":"point","padding":0,"domain":["hi","md"],"range":[0,21]}}}},
{"data":{"values":[{"study":"_test"}]},"mark":{"type":"text","align":"right","dx":-21,"dy":21},"encoding":{"x":{"datum":0,"axis":null},"text":{"value":"Favours Control"}}},
{"data":{"values":[{"study":"_test"}]},"mark":{"type":"text","align":"left","dx":21,"dy":21},"encoding":{"x":{"datum":0,"axis":null},"text":{"value":"Favours Intervention"}}}
]}
]}
],
"config":{
"view":{"stroke":null},
"text":{"font":"Liberation Sans","fontSize":45,"align":"right","baseline":"middle","color":"black"},
"title":{"anchor":"start","frame":"group","font":"Liberation Serif","fontSize":56,"fontWeight":"bold","color":"black","baseline":"bottom"}
}
}
